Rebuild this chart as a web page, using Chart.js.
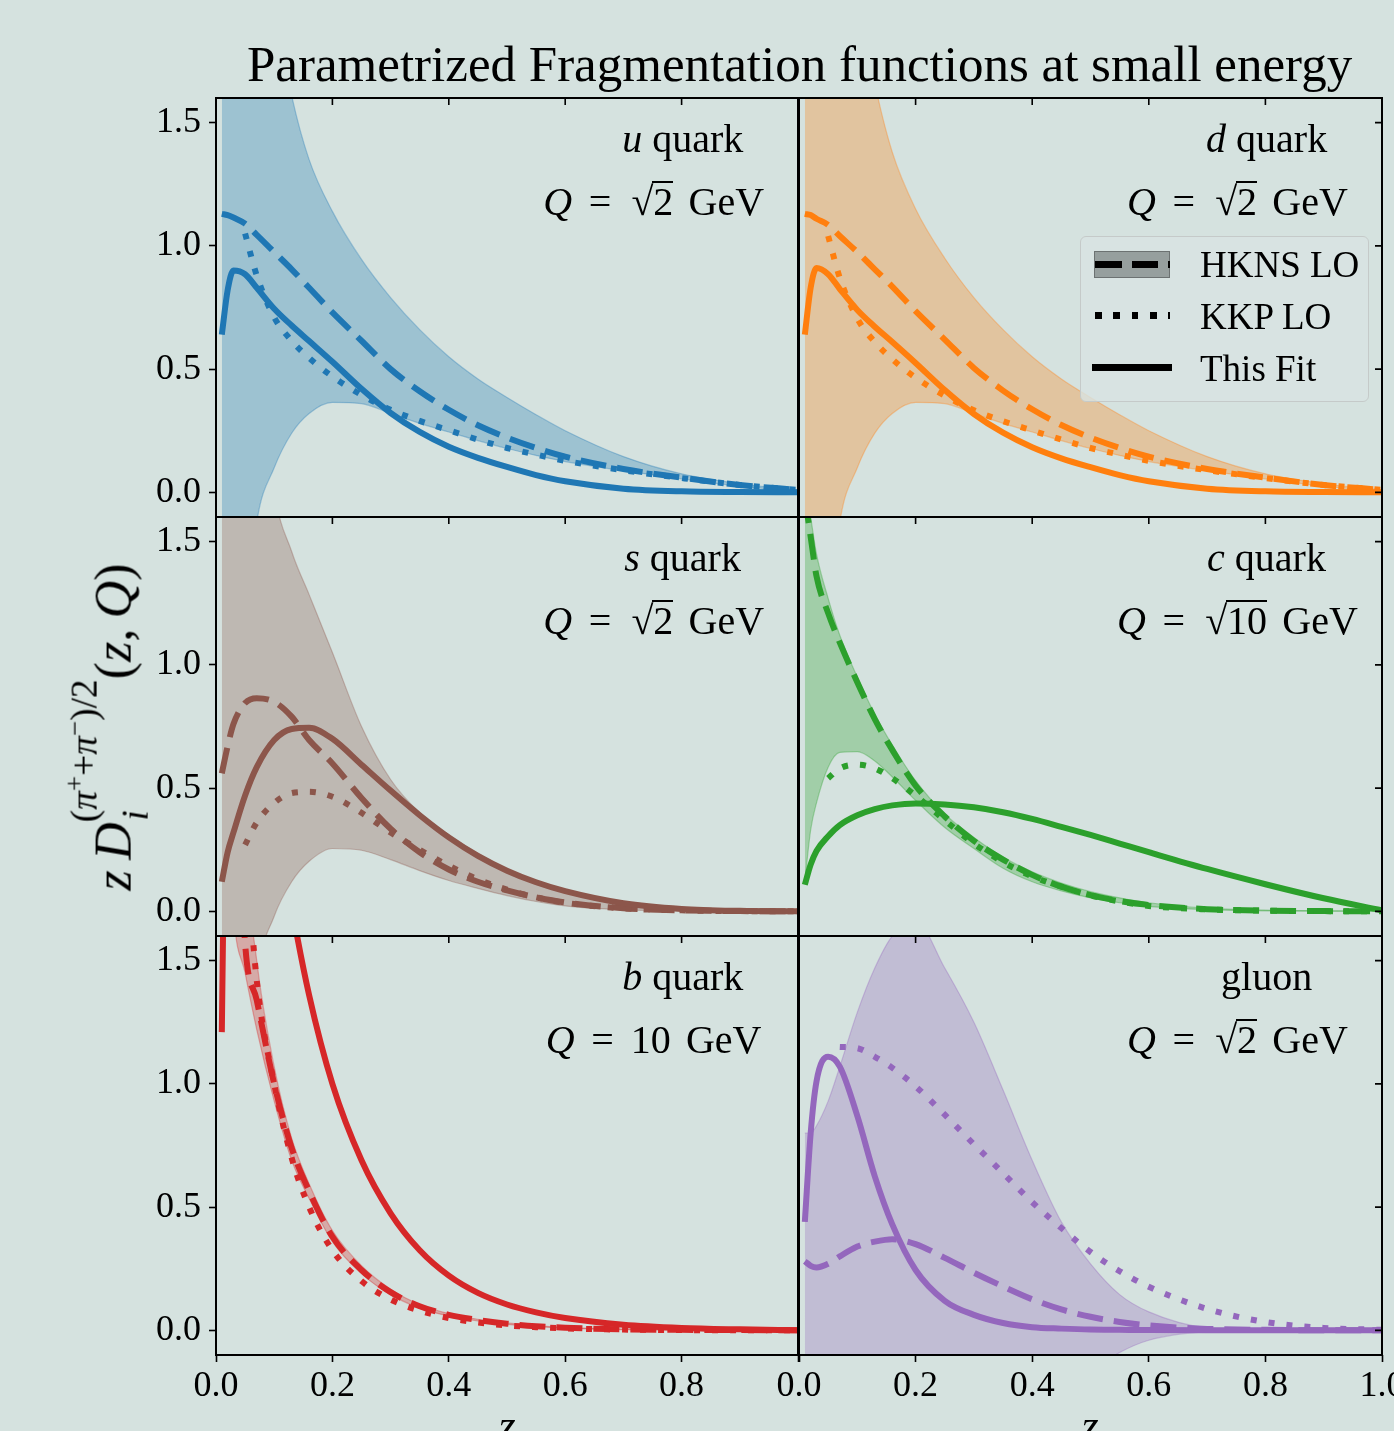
<!DOCTYPE html>
<html>
<head>
<meta charset="utf-8">
<title>Parametrized Fragmentation functions at small energy</title>
<script src="https://cdn.jsdelivr.net/npm/chart.js@4.4.1/dist/chart.umd.min.js"></script>
<style>
  html, body { margin: 0; padding: 0; background: #d5e2df; }
  #fig { position: relative; width: 1394px; height: 1431px; overflow: hidden; background: #d5e2df;
         font-family: 'Liberation Serif', 'DejaVu Serif', serif; color: #000; }
  #fig canvas { position: absolute; }
  .txt { position: absolute; white-space: nowrap; line-height: 1; }
  .eq { margin: 0 0.42em; }
  .sq { margin-left: 0.08em; }
  .gev { margin-left: 0.38em; }
  .rad { position: relative; }
  .rad::before { content: ''; position: absolute; left: -1px; right: 0; top: 0.06em; border-top: 2px solid #000; }
  .ss { position: relative; display: inline-block; font-size: 0.72em; }
  .ss .sp { position: relative; top: -0.9em; }
  .ss .sp sup { font-size: 0.72em; vertical-align: 0; position: relative; top: -0.5em; }
  .ss .sb { position: absolute; left: 0.05em; top: 0.45em; }
  .box { position: absolute; }
</style>
</head>
<body>
<div id="fig"></div>
<script>
// z grid shared by every curve
const Z = [0.01, 0.02, 0.03, 0.05, 0.07, 0.1, 0.13, 0.16, 0.2, 0.25, 0.3, 0.35, 0.4, 0.45, 0.5, 0.55, 0.6, 0.7, 0.8, 0.9, 1.0];

// u quark
const uFit    = [0.64, 0.82, 0.90, 0.885, 0.83, 0.745, 0.677, 0.614, 0.53, 0.42, 0.322, 0.245, 0.185, 0.14, 0.103, 0.07, 0.045, 0.015, 0.004, 0.001, 0.0];
const uHKNS   = [1.13, 1.125, 1.115, 1.09, 1.045, 0.975, 0.905, 0.83, 0.73, 0.615, 0.50, 0.41, 0.335, 0.272, 0.222, 0.18, 0.145, 0.095, 0.06, 0.03, 0.01];
const uKKP    = [null, null, null, 1.05, 0.88, 0.71, 0.615, 0.545, 0.47, 0.395, 0.335, 0.29, 0.252, 0.214, 0.18, 0.153, 0.128, 0.09, 0.058, 0.03, 0.01];
const uBandHi = [8, 6, 5, 3.5, 2.6, 2.0, 1.61, 1.35, 1.14, 0.945, 0.79, 0.66, 0.55, 0.46, 0.385, 0.315, 0.25, 0.145, 0.075, 0.035, 0.01];
const uBandLo = [-3, -2, -1.3, -0.55, -0.12, 0.10, 0.24, 0.32, 0.365, 0.36, 0.32, 0.28, 0.245, 0.21, 0.178, 0.15, 0.125, 0.088, 0.055, 0.025, 0.005];

// d quark
const dFit    = [0.64, 0.83, 0.91, 0.885, 0.825, 0.74, 0.672, 0.61, 0.525, 0.415, 0.318, 0.242, 0.183, 0.138, 0.102, 0.07, 0.045, 0.015, 0.004, 0.001, 0.0];
const dHKNS   = [1.13, 1.125, 1.11, 1.085, 1.04, 0.975, 0.905, 0.835, 0.735, 0.62, 0.505, 0.413, 0.337, 0.273, 0.222, 0.18, 0.145, 0.095, 0.06, 0.03, 0.01];
const dKKP    = [null, null, null, 1.04, 0.87, 0.705, 0.61, 0.54, 0.465, 0.392, 0.333, 0.289, 0.251, 0.214, 0.18, 0.153, 0.128, 0.09, 0.058, 0.03, 0.01];
const dBandHi = [8, 6, 5, 3.6, 2.7, 2.05, 1.66, 1.38, 1.15, 0.95, 0.79, 0.66, 0.55, 0.46, 0.385, 0.315, 0.25, 0.145, 0.075, 0.035, 0.01];
const dBandLo = [-3, -2, -1.3, -0.55, -0.12, 0.10, 0.24, 0.32, 0.365, 0.36, 0.32, 0.28, 0.245, 0.21, 0.178, 0.15, 0.125, 0.088, 0.055, 0.025, 0.005];

// s quark
const sFit    = [0.12, 0.24, 0.32, 0.47, 0.585, 0.695, 0.74, 0.745, 0.70, 0.595, 0.49, 0.39, 0.30, 0.225, 0.165, 0.118, 0.082, 0.033, 0.01, 0.002, 0.0];
const sHKNS   = [0.56, 0.67, 0.76, 0.845, 0.865, 0.85, 0.79, 0.695, 0.60, 0.46, 0.335, 0.24, 0.17, 0.12, 0.085, 0.057, 0.036, 0.013, 0.004, 0.001, 0.0];
const sKKP    = [null, null, null, 0.27, 0.36, 0.44, 0.48, 0.485, 0.465, 0.40, 0.32, 0.25, 0.185, 0.13, 0.088, 0.057, 0.035, 0.012, 0.004, 0.001, 0.0];
const sBandHi = [6, 5, 4.3, 3.3, 2.5, 1.72, 1.46, 1.285, 1.05, 0.75, 0.535, 0.40, 0.31, 0.235, 0.172, 0.123, 0.086, 0.035, 0.011, 0.003, 0.0];
const sBandLo = [-3, -2.2, -1.6, -0.8, -0.27, -0.02, 0.12, 0.203, 0.255, 0.248, 0.21, 0.165, 0.125, 0.093, 0.064, 0.04, 0.022, 0.006, 0.002, 0.0, 0.0];

// c quark
const cFit    = [0.108, 0.19, 0.245, 0.305, 0.35, 0.39, 0.415, 0.43, 0.438, 0.434, 0.422, 0.402, 0.375, 0.343, 0.31, 0.275, 0.24, 0.172, 0.11, 0.053, 0.004];
const cHKNS   = [1.68, 1.52, 1.36, 1.21, 1.09, 0.93, 0.78, 0.655, 0.51, 0.385, 0.286, 0.21, 0.148, 0.1, 0.066, 0.042, 0.026, 0.009, 0.003, 0.001, 0.0];
const cKKP    = [null, null, null, 0.54, 0.58, 0.595, 0.58, 0.54, 0.47, 0.37, 0.275, 0.2, 0.142, 0.1, 0.065, 0.04, 0.022, 0.008, 0.003, 0.001, 0.0];
const cBandHi = [1.75, 1.6, 1.45, 1.27, 1.12, 0.95, 0.80, 0.675, 0.53, 0.395, 0.30, 0.22, 0.16, 0.115, 0.08, 0.055, 0.035, 0.013, 0.005, 0.002, 0.0];
const cBandLo = [0.12, 0.33, 0.44, 0.585, 0.645, 0.648, 0.61, 0.545, 0.45, 0.34, 0.255, 0.175, 0.12, 0.083, 0.055, 0.035, 0.02, 0.007, 0.002, 0.001, 0.0];

// b quark
const bFit    = [1.21, 3.0, 3.6, 3.5, 2.8, 2.15, 1.72, 1.36, 1.0, 0.69, 0.475, 0.325, 0.222, 0.152, 0.105, 0.073, 0.05, 0.023, 0.01, 0.004, 0.0];
const bHKNS   = [5, 3.6, 2.6, 1.57, 1.34, 1.0, 0.74, 0.565, 0.38, 0.245, 0.155, 0.098, 0.063, 0.042, 0.027, 0.017, 0.011, 0.004, 0.002, 0.001, 0.0];
const bKKP    = [null, null, null, 2.0, 1.42, 1.0, 0.70, 0.50, 0.325, 0.20, 0.125, 0.08, 0.05, 0.032, 0.02, 0.013, 0.008, 0.003, 0.001, 0.0, 0.0];
const bBandHi = [8, 5, 3.4, 2.0, 1.5, 1.07, 0.78, 0.595, 0.405, 0.262, 0.167, 0.105, 0.068, 0.045, 0.03, 0.019, 0.012, 0.005, 0.002, 0.001, 0.0];
const bBandLo = [3.0, 2.2, 1.7, 1.45, 1.22, 0.93, 0.69, 0.535, 0.36, 0.23, 0.145, 0.09, 0.058, 0.038, 0.024, 0.015, 0.009, 0.003, 0.001, 0.0, 0.0];

// gluon
const gFit    = [0.44, 0.80, 1.01, 1.11, 1.07, 0.87, 0.625, 0.43, 0.245, 0.12, 0.063, 0.03, 0.013, 0.007, 0.003, 0.002, 0.001, 0.0, 0.0, 0.0, 0.0];
const gHKNS   = [0.28, 0.262, 0.255, 0.27, 0.30, 0.34, 0.36, 0.37, 0.35, 0.294, 0.234, 0.178, 0.126, 0.085, 0.055, 0.034, 0.02, 0.006, 0.002, 0.0, 0.0];
const gKKP    = [null, null, null, null, 1.15, 1.145, 1.11, 1.065, 0.99, 0.875, 0.755, 0.638, 0.52, 0.415, 0.318, 0.24, 0.177, 0.087, 0.034, 0.01, 0.002];
const gBandHi = [0.80, 0.80, 0.83, 0.93, 1.07, 1.29, 1.47, 1.60, 1.66, 1.47, 1.25, 0.975, 0.69, 0.44, 0.27, 0.145, 0.075, 0.01, 0.001, 0.0, 0.0];
const gBandLo = [-2, -2, -2, -2, -2, -2, -2, -2, -1.8, -1.5, -1.1, -0.75, -0.48, -0.3, -0.17, -0.09, -0.04, -0.005, 0.0, 0.0, 0.0];

const xTicks = [0, 0.2, 0.4, 0.6, 0.8, 1.0];
const yTicks = [0, 0.5, 1.0, 1.5];

function qLabel(rad) {
  const r = rad ? '<span class="sq">√</span><span class="rad">' + rad + '</span>' : '10';
  return '<i>Q</i><span class="eq">=</span>' + r + '<span class="gev">GeV</span>';
}

const panels = [
  { row: 0, col: 0, color: '#1f77b4', fit: uFit, hkns: uHKNS, kkp: uKKP, hi: uBandHi, lo: uBandLo,
    name: '<i>u</i> quark', q: qLabel('2') },
  { row: 0, col: 1, color: '#ff7f0e', fit: dFit, hkns: dHKNS, kkp: dKKP, hi: dBandHi, lo: dBandLo,
    name: '<i>d</i> quark', q: qLabel('2') },
  { row: 1, col: 0, color: '#8c564b', fit: sFit, hkns: sHKNS, kkp: sKKP, hi: sBandHi, lo: sBandLo,
    name: '<i>s</i> quark', q: qLabel('2') },
  { row: 1, col: 1, color: '#2ca02c', fit: cFit, hkns: cHKNS, kkp: cKKP, hi: cBandHi, lo: cBandLo,
    name: '<i>c</i> quark', q: qLabel('10') },
  { row: 2, col: 0, color: '#d62728', fit: bFit, hkns: bHKNS, kkp: bKKP, hi: bBandHi, lo: bBandLo,
    name: '<i>b</i> quark', q: qLabel(null) },
  { row: 2, col: 1, color: '#9467bd', fit: gFit, hkns: gHKNS, kkp: gKKP, hi: gBandHi, lo: gBandLo,
    name: 'gluon', q: qLabel('2') }
];

// layout of the figure
const COLS = [{ left: 216, w: 582 }, { left: 799, w: 583 }];
const ROWS = [98, 517, 936];
const PH = 419;
const ML = 90, MT = 10, MR = 12, MB = 70;
const LW = 6;
const FONT = "'Liberation Serif', 'DejaVu Serif', serif";

Chart.defaults.font.family = FONT;
Chart.defaults.color = '#000';

const fig = document.getElementById('fig');

function rgba(hex, a) {
  const n = parseInt(hex.slice(1), 16);
  return 'rgba(' + (n >> 16) + ',' + ((n >> 8) & 255) + ',' + (n & 255) + ',' + a + ')';
}
function pts(vals) {
  return Z.map((z, i) => ({ x: z, y: vals[i] }));
}

// frame and inward ticks (top always, right on the right column)
const frameTicks = {
  id: 'frameTicks',
  afterDraw(chart, args, opts) {
    const { ctx, chartArea: a, scales: { x, y } } = chart;
    ctx.save();
    ctx.strokeStyle = '#000';
    ctx.lineWidth = 1.6;
    ctx.beginPath();
    x.ticks.forEach(t => {
      const px = x.getPixelForValue(t.value);
      ctx.moveTo(px, a.top); ctx.lineTo(px, a.top + 7);
    });
    if (opts.right) {
      y.ticks.forEach(t => {
        const py = y.getPixelForValue(t.value);
        ctx.moveTo(a.right, py); ctx.lineTo(a.right - 7, py);
      });
    }
    ctx.stroke();
    ctx.lineWidth = 2;
    ctx.strokeRect(a.left, a.top, a.right - a.left, a.bottom - a.top);
    ctx.restore();
  }
};

function addText(html, x, baseline, size, align) {
  const el = document.createElement('div');
  el.className = 'txt';
  el.style.fontSize = size + 'px';
  el.innerHTML = html;
  fig.appendChild(el);
  el.style.top = (baseline - 0.8375 * size) + 'px';
  const w = el.offsetWidth;
  el.style.left = (align === 'center' ? x - w / 2 : align === 'right' ? x - w : x) + 'px';
  return el;
}

panels.forEach(p => {
  const col = COLS[p.col], top = ROWS[p.row];
  const showY = p.col === 0, showX = p.row === 2;
  const cv = document.createElement('canvas');
  cv.width = ML + col.w + MR;
  cv.height = MT + PH + MB;
  cv.style.left = (col.left - ML) + 'px';
  cv.style.top = (top - MT) + 'px';
  fig.appendChild(cv);

  const base = { pointRadius: 0, borderCapStyle: 'butt', cubicInterpolationMode: 'monotone', fill: false };
  new Chart(cv, {
    type: 'line',
    data: {
      datasets: [
        Object.assign({ label: 'This Fit', data: pts(p.fit), borderColor: p.color, borderWidth: LW }, base),
        Object.assign({ label: 'KKP LO', data: pts(p.kkp), borderColor: p.color, borderWidth: LW, borderDash: [6, 12] }, base),
        Object.assign({ label: 'HKNS LO', data: pts(p.hkns), borderColor: p.color, borderWidth: LW, borderDash: [26, 11] }, base),
        Object.assign({ label: 'band+', data: pts(p.hi), borderColor: rgba(p.color, 0.35), borderWidth: 1.2 }, base),
        Object.assign({}, base, { label: 'band-', data: pts(p.lo), borderColor: rgba(p.color, 0.35), borderWidth: 1.2,
          fill: '-1', backgroundColor: rgba(p.color, 0.3) })
      ]
    },
    options: {
      responsive: false,
      animation: false,
      devicePixelRatio: 1,
      layout: { padding: { top: MT, right: MR, left: 0, bottom: 0 } },
      plugins: { legend: { display: false }, tooltip: { enabled: false }, frameTicks: { right: p.col === 1 } },
      scales: {
        x: {
          type: 'linear', min: 0, max: 1,
          afterBuildTicks: s => { s.ticks = xTicks.map(v => ({ value: v })); },
          afterFit: s => { s.height = MB; s.paddingLeft = 0; s.paddingRight = 0; },
          border: { display: false },
          grid: showX ? { display: true, drawOnChartArea: false, drawTicks: true, tickLength: 7, tickColor: '#000', tickWidth: 1.6 }
                      : { display: false },
          ticks: {
            display: showX, maxRotation: 0, padding: 3, color: '#000',
            font: { size: 36, family: FONT },
            callback: v => (p.col === 0 && v === 1) ? '' : v.toFixed(1)
          }
        },
        y: {
          type: 'linear', min: -0.1, max: 1.6,
          afterBuildTicks: s => { s.ticks = yTicks.map(v => ({ value: v })); },
          afterFit: s => { s.width = ML; s.paddingTop = 0; s.paddingBottom = 0; },
          border: { display: false },
          grid: showY ? { display: true, drawOnChartArea: false, drawTicks: true, tickLength: 7, tickColor: '#000', tickWidth: 1.6 }
                      : { display: false },
          ticks: {
            display: showY, padding: 8, color: '#000',
            font: { size: 36, family: FONT },
            callback: v => v.toFixed(1)
          }
        }
      }
    },
    plugins: [frameTicks]
  });

  // panel annotations
  addText(p.name, col.left + 0.802 * col.w, top + 54, 40, 'center');
  addText(p.q, col.left + 0.752 * col.w, top + 117, 40, 'center');
});

// title, fitted to its width in the reference
const title = addText('Parametrized Fragmentation functions at small energy', 0, 82, 48, 'left');
const tfs = 48 * 1105 / title.offsetWidth;
title.remove();
addText('Parametrized Fragmentation functions at small energy', 799.5, 82, tfs, 'center');

// y axis label
const yl = document.createElement('div');
yl.className = 'txt';
yl.style.fontSize = '52px';
yl.innerHTML = '<i>z</i>&thinsp;<i>D</i><span class="ss"><span class="sp">(<i>π</i><sup>+</sup>+<i>π</i><sup>−</sup>)/2</span><span class="sb"><i>i</i></span></span>(<i>z</i>,&thinsp;<i>Q</i>)';
fig.appendChild(yl);
const yw = yl.offsetWidth, yh = yl.offsetHeight;
yl.style.left = (113 - yw / 2) + 'px';
yl.style.top = (727 - yh / 2) + 'px';
yl.style.transform = 'rotate(-90deg)';

// x axis labels (mostly below the page edge)
addText('<i>z</i>', 507, 1441, 44, 'center');
addText('<i>z</i>', 1090, 1441, 44, 'center');

// legend in the d quark panel
const lg = document.createElement('div');
lg.className = 'box';
Object.assign(lg.style, { left: '1080px', top: '236px', width: '287px', height: '164px',
  border: '1.5px solid #c5cac9', borderRadius: '6px', background: 'rgba(216,228,226,0.8)' });
fig.appendChild(lg);
function handle(style) {
  const el = document.createElement('div');
  el.className = 'box';
  Object.assign(el.style, style);
  fig.appendChild(el);
}
handle({ left: '1094px', top: '251px', width: '74px', height: '25px', background: 'rgba(0,0,0,0.3)', border: '1.5px solid rgba(0,0,0,0.28)' });
handle({ left: '1095px', top: '260.5px', width: '75px', height: '7px',
  background: 'repeating-linear-gradient(to right, #000 0 26.7px, transparent 26.7px 36.7px)' });
handle({ left: '1095px', top: '311.5px', width: '75px', height: '7px',
  background: 'repeating-linear-gradient(to right, #000 0 6.7px, transparent 6.7px 18.3px)' });
handle({ left: '1092px', top: '364px', width: '80px', height: '7px', background: '#000' });
addText('HKNS LO', 1200, 277, 37, 'left');
addText('KKP LO', 1200, 329, 37, 'left');
addText('This Fit', 1200, 381, 37, 'left');
</script>
</body>
</html>
